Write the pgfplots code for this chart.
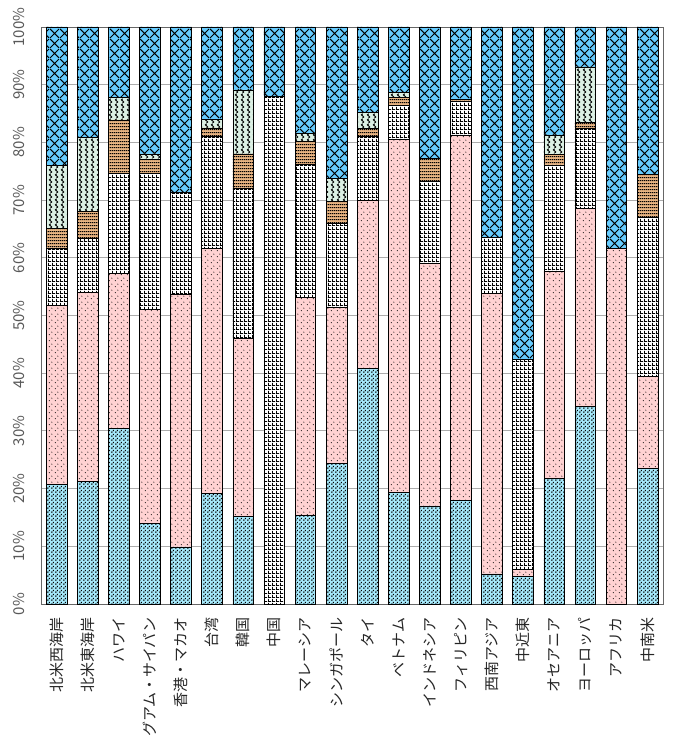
\documentclass[border=0pt]{standalone}
\usepackage{fontspec}
\setmainfont{Noto Sans CJK JP}
\usepackage{pgfplots}
\pgfplotsset{compat=1.18}
\usepackage{pgfplotstable}
\usetikzlibrary{patterns}

\definecolor{lb}{RGB}{165,232,250}
\definecolor{pk}{RGB}{255,210,210}
\definecolor{org}{RGB}{232,180,130}
\definecolor{grn}{RGB}{220,240,228}
\definecolor{blu}{RGB}{102,204,255}
\definecolor{ticktext}{RGB}{89,89,89}

\pgfdeclarepatternformonly{lbdash}{\pgfpointorigin}{\pgfpoint{3.6pt}{3.6pt}}{\pgfpoint{3.6pt}{3.6pt}}{%
  \pgfpathrectangle{\pgfpoint{0.3pt}{0.2pt}}{\pgfpoint{1.1pt}{1.7pt}}%
  \pgfpathrectangle{\pgfpoint{2.1pt}{2.0pt}}{\pgfpoint{1.1pt}{1.4pt}}%
  \pgfusepath{fill}}
\pgfdeclarepatternformonly{pinkdots}{\pgfpointorigin}{\pgfpoint{6pt}{6pt}}{\pgfpoint{6pt}{6pt}}{%
  \pgfpathcircle{\pgfpoint{1.5pt}{1.5pt}}{0.6pt}%
  \pgfpathcircle{\pgfpoint{4.5pt}{4.5pt}}{0.6pt}%
  \pgfusepath{fill}}
\pgfdeclarepatternformonly{gridpat}{\pgfpointorigin}{\pgfpoint{4pt}{4pt}}{\pgfpoint{4pt}{4pt}}{%
  \pgfsetlinewidth{1pt}%
  \pgfpathmoveto{\pgfpoint{0.5pt}{0pt}}\pgfpathlineto{\pgfpoint{0.5pt}{4pt}}%
  \pgfpathmoveto{\pgfpoint{0pt}{0.5pt}}\pgfpathlineto{\pgfpoint{4pt}{0.5pt}}%
  \pgfusepath{stroke}}
\pgfdeclarepatternformonly{stripes}{\pgfpointorigin}{\pgfpoint{2pt}{2.9pt}}{\pgfpoint{2pt}{2.9pt}}{%
  \pgfsetlinewidth{1.1pt}%
  \pgfpathmoveto{\pgfpoint{0pt}{1.4pt}}\pgfpathlineto{\pgfpoint{2pt}{1.4pt}}%
  \pgfusepath{stroke}}
\pgfdeclarepatternformonly{wavy}{\pgfpointorigin}{\pgfpoint{6pt}{5pt}}{\pgfpoint{6pt}{5pt}}{%
  \pgfsetlinewidth{1.1pt}%
  \pgfpathmoveto{\pgfpoint{3pt}{0pt}}%
  \pgfpathcurveto{\pgfpoint{4.8pt}{0.6pt}}{\pgfpoint{4.8pt}{1.9pt}}{\pgfpoint{3pt}{2.5pt}}%
  \pgfpathcurveto{\pgfpoint{1.2pt}{3.1pt}}{\pgfpoint{1.2pt}{4.4pt}}{\pgfpoint{3pt}{5pt}}%
  \pgfusepath{stroke}}
\pgfdeclarepatternformonly{diamonds}{\pgfpointorigin}{\pgfpoint{10pt}{10pt}}{\pgfpoint{10pt}{10pt}}{%
  \pgfsetlinewidth{1pt}%
  \pgfpathmoveto{\pgfpoint{0pt}{0pt}}\pgfpathlineto{\pgfpoint{10pt}{10pt}}%
  \pgfpathmoveto{\pgfpoint{0pt}{10pt}}\pgfpathlineto{\pgfpoint{10pt}{0pt}}%
  \pgfusepath{stroke}}

\pgfplotstableread{
x a b c d e f
0 20.7 31.1 9.9 3.4 10.9 24.0
1 21.2 32.8 9.4 4.7 12.7 19.2
2 30.4 26.9 17.3 9.3 3.9 12.2
3 13.9 37.2 23.5 2.4 1.0 22.0
4 9.9 43.8 17.7 0 0 28.6
5 19.1 42.5 19.4 1.5 1.5 16.0
6 15.2 30.9 26.0 5.9 11.1 10.9
7 0 0 88.0 0 0 12.0
8 15.4 37.8 23.0 4.0 1.3 18.5
9 24.4 27.0 14.6 3.8 4.0 26.2
10 40.8 29.2 11.0 1.4 2.8 14.8
11 19.3 61.2 5.9 1.4 0.9 11.3
12 17.0 42.0 14.2 4.0 0 22.8
13 18.0 63.2 6.0 0.3 0 12.5
14 5.2 48.6 9.7 0 0 36.5
15 4.8 1.2 36.4 0 0 57.6
16 21.8 35.9 18.4 1.8 3.4 18.7
17 34.2 34.4 13.8 1.1 9.6 6.9
18 0 61.6 0 0 0 38.4
19 23.5 16.0 27.5 7.4 0 25.6
}\data

\begin{document}
\begin{tikzpicture}
\useasboundingbox (-41pt,-134pt) rectangle (631pt,604pt);
\begin{axis}[
  at={(0pt,0pt)}, anchor=south west,
  scale only axis, width=622pt, height=577pt,
  ybar stacked, bar width=20.7pt,
  xmin=-0.5, xmax=19.5, ymin=0, ymax=100,
  xtick={0,...,19},
  xticklabels={北米西海岸,北米東海岸,ハワイ,グアム・サイパン,香港・マカオ,台湾,韓国,中国,マレーシア,シンガポール,タイ,ベトナム,インドネシア,フィリピン,西南アジア,中近東,オセアニア,ヨーロッパ,アフリカ,中南米},
  ytick={0,10,...,100},
  yticklabels={0\%,10\%,20\%,30\%,40\%,50\%,60\%,70\%,80\%,90\%,100\%},
  ymajorgrids, grid style={draw=gray!65, line width=0.8pt},
  major tick length=0pt,
  axis line style={draw=black!60, line width=0.8pt},
  xticklabel style={yshift=-10pt, rotate=90, anchor=east, font=\fontsize{15}{17}\selectfont, text=black!85},
  yticklabel style={xshift=-13pt, rotate=90, anchor=south, font=\fontsize{15}{17}\selectfont, text=ticktext},
  every axis plot/.append style={draw=black, line width=0.6pt},
]
\addplot[fill=lb, postaction={pattern=lbdash}] table[x=x,y=a]{\data};
\addplot[fill=pk, postaction={pattern=pinkdots}] table[x=x,y=b]{\data};
\addplot[fill=white, postaction={pattern=gridpat}] table[x=x,y=c]{\data};
\addplot[fill=org, postaction={pattern=stripes}] table[x=x,y=d]{\data};
\addplot[fill=grn, postaction={pattern=wavy}] table[x=x,y=e]{\data};
\addplot[fill=blu, postaction={pattern=diamonds}] table[x=x,y=f]{\data};
\end{axis}
\end{tikzpicture}
\end{document}
